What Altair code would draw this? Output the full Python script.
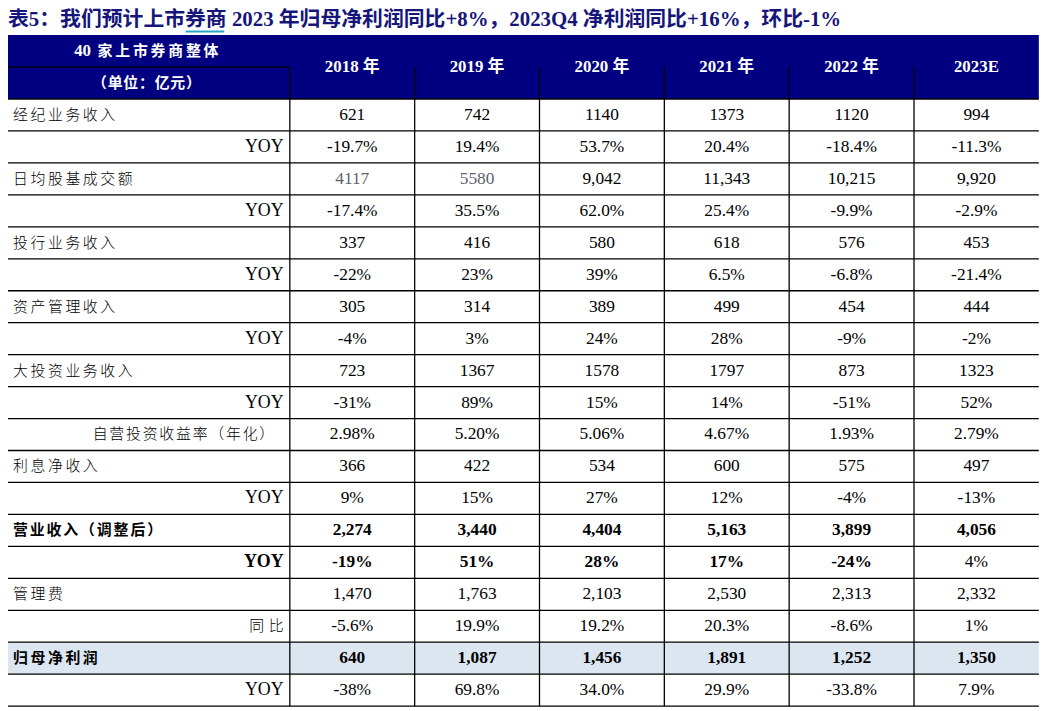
import altair as alt
import pandas as pd

# ---------------- data ----------------
title_text = "表5：我们预计上市券商 2023 年归母净利润同比+8%，2023Q4 净利润同比+16%，环比-1%"
header_left_num = "40"
header_left_top = "家上市券商整体"
header_left_bottom = "（单位：亿元）"
years = ["2018 年", "2019 年", "2020 年", "2021 年", "2022 年", "2023E"]

row_labels = ["经纪业务收入", "YOY", "日均股基成交额", "YOY", "投行业务收入", "YOY",
              "资产管理收入", "YOY", "大投资业务收入", "YOY", "自营投资收益率（年化）",
              "利息净收入", "YOY", "营业收入（调整后）", "YOY", "管理费", "同比",
              "归母净利润", "YOY"]
label_kind = ["main", "yoy", "main", "yoy", "main", "yoy", "main", "yoy", "main", "yoy",
              "sub", "main", "yoy", "main", "yoy", "main", "yoy", "main", "yoy"]

v2018 = ["621", "-19.7%", "4117", "-17.4%", "337", "-22%", "305", "-4%", "723", "-31%",
         "2.98%", "366", "9%", "2,274", "-19%", "1,470", "-5.6%", "640", "-38%"]
v2019 = ["742", "19.4%", "5580", "35.5%", "416", "23%", "314", "3%", "1367", "89%",
         "5.20%", "422", "15%", "3,440", "51%", "1,763", "19.9%", "1,087", "69.8%"]
v2020 = ["1140", "53.7%", "9,042", "62.0%", "580", "39%", "389", "24%", "1578", "15%",
         "5.06%", "534", "27%", "4,404", "28%", "2,103", "19.2%", "1,456", "34.0%"]
v2021 = ["1373", "20.4%", "11,343", "25.4%", "618", "6.5%", "499", "28%", "1797", "14%",
         "4.67%", "600", "12%", "5,163", "17%", "2,530", "20.3%", "1,891", "29.9%"]
v2022 = ["1120", "-18.4%", "10,215", "-9.9%", "576", "-6.8%", "454", "-9%", "873", "-51%",
         "1.93%", "575", "-4%", "3,899", "-24%", "2,313", "-8.6%", "1,252", "-33.8%"]
v2023 = ["994", "-11.3%", "9,920", "-2.9%", "453", "-21.4%", "444", "-2%", "1323", "52%",
         "2.79%", "497", "-13%", "4,056", "4%", "2,332", "1%", "1,350", "7.9%"]

bold_rows = [13, 14, 17]
plain_cells = [(14, 5)]          # 4% in 2023E is not bold
grey_cells = [(2, 0), (2, 1)]    # 4117, 5580 in grey
highlight_rows = [17]

# ---------------- styling ----------------
NAVY = "#000080"
HILITE = "#dce6f1"
TITLE_COLOR = "#15157a"
LINK = "#29a7c9"
GREY = "#5f5f6f"
FONT = "Liberation Serif, Noto Sans CJK SC"
CJK = "Noto Sans CJK SC"
CJK_SIZE = 15

n_rows = len(row_labels)
n_cols = len(years)
LEFT = -2.2576
UNIT = 125.8          # pixels per data column

xs = alt.Scale(domain=[LEFT, 6.0334], range=[0, 1043], nice=False, zero=False)
ys = alt.Scale(domain=[-2.764, 19.068], nice=False, zero=False, reverse=True)


def X(f="x"):
    return alt.X(f"{f}:Q", scale=xs, axis=None)


def Y(f="y"):
    return alt.Y(f"{f}:Q", scale=ys, axis=None)


def explode(text, y, start, pitch, align, bold):
    """Place each character of a CJK label in its own slot (letter spacing)."""
    n = len(text)
    out = []
    for i, ch in enumerate(text):
        if align == "left":
            c = start + (CJK_SIZE / 2 + i * pitch) / UNIT
        else:
            c = start - (CJK_SIZE / 2 + (n - 1 - i) * pitch) / UNIT
        out.append({"x": c, "y": y, "text": ch, "isbold": bold})
    return out


# cells
cols = [v2018, v2019, v2020, v2021, v2022, v2023]
cells = []
for c, col in enumerate(cols):
    for r, t in enumerate(col):
        bold = (r in bold_rows) and ((r, c) not in plain_cells)
        color = GREY if (r, c) in grey_cells else "#000000"
        cells.append({"x": c + 0.5, "y": r + 0.5, "text": t, "bold": bold, "color": color})
cells_df = pd.DataFrame(cells)

chars = []
yoy = []
for r, (lab, kind) in enumerate(zip(row_labels, label_kind)):
    b = r in bold_rows
    if lab == "YOY":
        yoy.append({"x": -0.05, "y": r + 0.5, "text": lab, "isbold": b})
    elif kind == "main":
        pitch = 16.9 if lab.startswith("营业") else 17.6
        chars += explode(lab, r + 0.5, LEFT + 0.04, pitch, "left", b)
    elif kind == "sub":
        chars += explode(lab, r + 0.5, -0.125, 16.8, "right", b)
    else:
        chars += explode(lab, r + 0.5, -0.05, 19.5, "right", b)
chars_df = pd.DataFrame(chars)
yoy_df = pd.DataFrame(yoy)

hdr_chars = pd.DataFrame(
    explode(header_left_top, -1.5, -1.54, 17.8, "left", True) +
    explode(header_left_bottom, -0.5, -1.585, 15.8, "left", True)
)

# backgrounds
bg_df = pd.DataFrame(
    [{"x": LEFT, "x2": 6, "y": -2, "y2": 0, "color": NAVY}] +
    [{"x": LEFT, "x2": 6, "y": r, "y2": r + 1, "color": HILITE} for r in highlight_rows]
)

# grid lines
h_lines = pd.DataFrame([{"x": LEFT, "x2": 6, "y": r, "y2": r} for r in range(0, n_rows + 1)] +
                       [{"x": LEFT, "x2": 0, "y": -1, "y2": -1}])
v_lines = pd.DataFrame([{"x": c, "x2": c, "y": -1, "y2": n_rows} for c in range(0, n_cols)])

header_df = pd.DataFrame(
    [{"x": c + 0.5, "y": -1, "text": y} for c, y in enumerate(years)] +
    [{"x": -1.66, "y": -1.5, "text": header_left_num}]
)

title_df = pd.DataFrame([{"x": LEFT, "y": -2.48, "text": title_text}])
underline_df = pd.DataFrame([{"x": -0.835, "x2": -0.525, "y": -2.11}])

bg = alt.Chart(bg_df).mark_rect().encode(
    x=X(), x2="x2:Q", y=Y(), y2="y2:Q", color=alt.Color("color:N", scale=None))

hl = alt.Chart(h_lines).mark_rule(color="#000000", strokeWidth=1.3).encode(
    x=X(), x2="x2:Q", y=Y(), y2="y2:Q")
vl = alt.Chart(v_lines).mark_rule(color="#000000", strokeWidth=1.3).encode(
    x=X(), x2="x2:Q", y=Y(), y2="y2:Q")

cell_norm = alt.Chart(cells_df[~cells_df["bold"]]).mark_text(
    font=FONT, fontSize=17.5, align="center", baseline="middle").encode(
    x=X(), y=Y(), text="text:N", color=alt.Color("color:N", scale=None))
cell_bold = alt.Chart(cells_df[cells_df["bold"]]).mark_text(
    font=FONT, fontSize=17.5, fontWeight="bold", align="center", baseline="middle").encode(
    x=X(), y=Y(), text="text:N", color=alt.Color("color:N", scale=None))

char_norm = alt.Chart(chars_df[~chars_df["isbold"]]).mark_text(
    font=CJK, fontSize=CJK_SIZE, fontWeight=300, align="center", baseline="middle",
    color="#000000").encode(x=X(), y=Y(), text="text:N")
char_bold = alt.Chart(chars_df[chars_df["isbold"]]).mark_text(
    font=CJK, fontSize=CJK_SIZE, fontWeight="bold", align="center", baseline="middle",
    color="#000000").encode(x=X(), y=Y(), text="text:N")

yoy_norm = alt.Chart(yoy_df[~yoy_df["isbold"]]).mark_text(
    font=FONT, fontSize=18, align="right", baseline="middle", color="#000000").encode(
    x=X(), y=Y(), text="text:N")
yoy_bold = alt.Chart(yoy_df[yoy_df["isbold"]]).mark_text(
    font=FONT, fontSize=18, fontWeight="bold", align="right", baseline="middle",
    color="#000000").encode(x=X(), y=Y(), text="text:N")

header = alt.Chart(header_df).mark_text(
    font=FONT, fontSize=17, fontWeight="bold", color="#ffffff", align="center",
    baseline="middle").encode(x=X(), y=Y(), text="text:N")
header_chars = alt.Chart(hdr_chars).mark_text(
    font=CJK, fontSize=CJK_SIZE, fontWeight="bold", color="#ffffff", align="center",
    baseline="middle").encode(x=X(), y=Y(), text="text:N")

title = alt.Chart(title_df).mark_text(
    font=FONT, fontSize=21, fontWeight="bold", color=TITLE_COLOR, align="left",
    baseline="middle").encode(x=X(), y=Y(), text="text:N")
underline = alt.Chart(underline_df).mark_rule(color=LINK, strokeWidth=2).encode(
    x=X(), x2="x2:Q", y=Y())

chart = alt.layer(bg, hl, vl, cell_norm, cell_bold, char_norm, char_bold, yoy_norm, yoy_bold,
                  header, header_chars, title, underline).properties(
    width=1043, height=703, padding=0, autosize=alt.AutoSizeParams(type="none")
).configure_view(stroke=None)

chart.save("out.html", embed_options={"renderer": "svg", "actions": False})
